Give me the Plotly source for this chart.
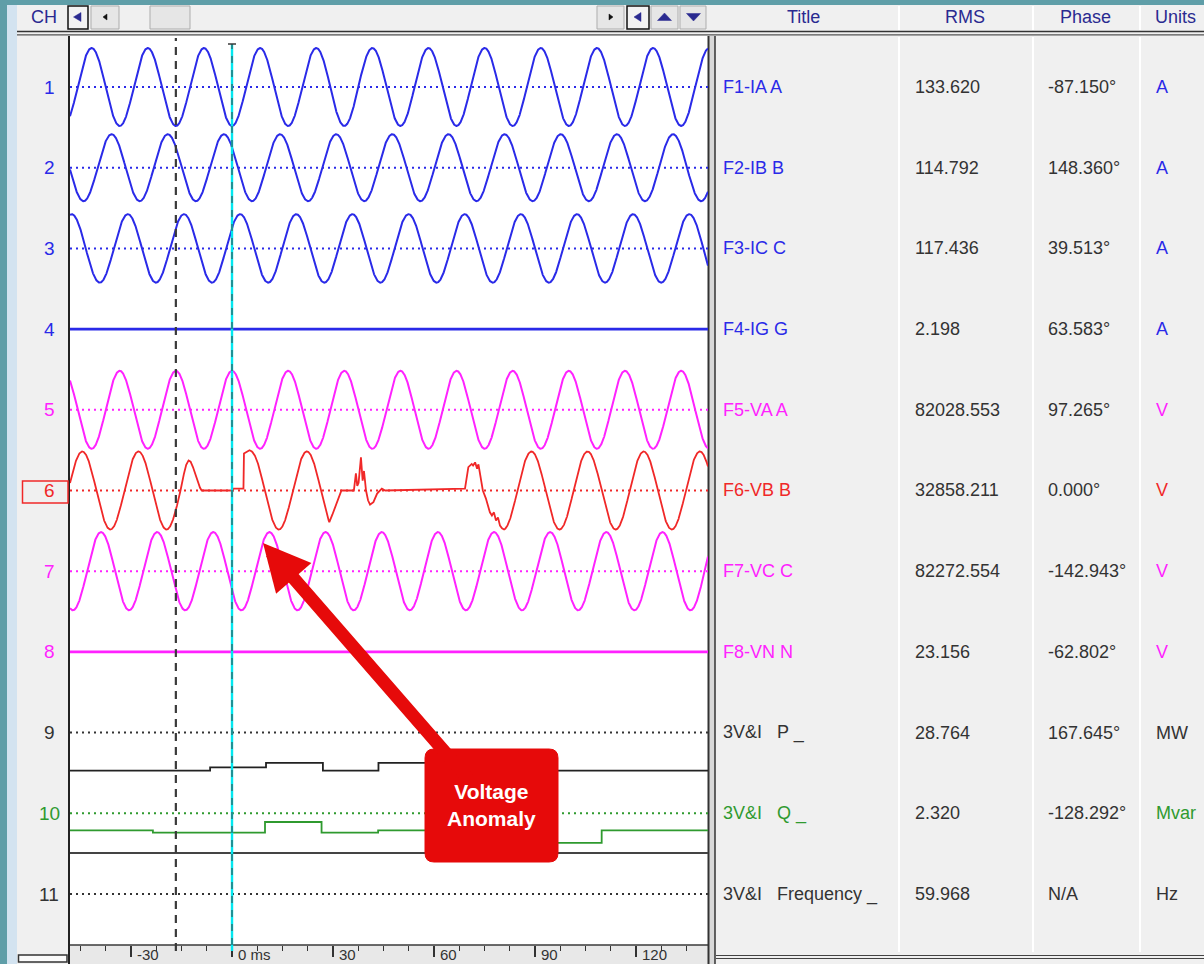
import numpy as np
import plotly.graph_objects as go

W, H = 1204, 964

# ---------------- recorded channel data ----------------
channel_numbers = [str(i) for i in range(1, 12)]
titles = ["F1-IA A", "F2-IB B", "F3-IC C", "F4-IG G", "F5-VA A", "F6-VB B",
          "F7-VC C", "F8-VN N", "3V&I\u00a0\u00a0\u00a0P _", "3V&I\u00a0\u00a0\u00a0Q _",
          "3V&I\u00a0\u00a0\u00a0Frequency _"]
rms_text = ["133.620", "114.792", "117.436", "2.198", "82028.553", "32858.211",
            "82272.554", "23.156", "28.764", "2.320", "59.968"]
phase_text = ["-87.150°", "148.360°", "39.513°", "63.583°", "97.265°", "0.000°",
              "-142.943°", "-62.802°", "167.645°", "-128.292°", "N/A"]
units = ["A", "A", "A", "A", "V", "V", "V", "V", "MW", "Mvar", "Hz"]

freq_hz = 59.968
# analog channels: rms and phase at the 0 ms cursor (deg)
ia_rms, ib_rms, ic_rms = 133.620, 114.792, 117.436
va_rms, vc_rms = 82028.553, 82272.554
vb_prefault_rms = 82150.0
ia_phase, ib_phase, ic_phase = 180.0, 52.0, -52.0
va_phase, vb_phase, vc_phase = 0.0, -120.0, 120.0
ig_level = 0.0
vn_level = 0.0

# VB disturbance samples (ms, per-unit of prefault peak)
vb_event1_t = [-15.3, -14.3, -13.6, -12.9, -12.3, -11.6, -10.9, -10.2, -9.5, -9.0,
               0.3, 0.4, 3.4, 3.55, 4.3, 5.2, 5.9]
vb_event1_pu = [0.0, 0.42, 0.66, 0.77, 0.74, 0.6, 0.42, 0.22, 0.07, 0.0,
                0.0, 0.05, 0.05, 0.95, 0.99, 1.03, 1.0]
vb_event2_t = [28.9, 29.8, 30.8, 31.8, 32.5, 36.2, 36.8, 37.2, 37.6, 38.3, 38.8, 39.2,
               39.8, 40.4, 41.0, 42.0, 43.1, 44.5, 45.5, 69.2, 70.2, 71.2, 71.6, 72.2,
               72.8, 73.2, 73.7, 74.5, 75.4, 76.6, 77.2, 77.8, 78.4, 79.0, 79.6, 80.2, 80.8]
vb_event2_pu = [-0.81, -0.62, -0.38, -0.15, 0.0, 0.0, 0.44, 0.12, 0.2, 0.85, 0.25, 0.5,
                0.0, -0.25, -0.36, -0.3, -0.08, 0.05, 0.0, 0.05, 0.6, 0.68, 0.64, 0.72,
                0.56, 0.67, 0.38, 0.0, -0.2, -0.56, -0.64, -0.56, -0.77, -0.69, -0.9, -0.97, -1.0]

# derived power quantities (ms, value) as step records
p_times = [-48.12, -6.5, 10.1, 27.0, 43.5, 76.8, 141.4]
p_values = [-28.76, -26.3, -22.9, -28.76, -22.9, -28.76, -28.76]
q_times = [-48.12, -23.5, 9.8, 26.6, 43.4, 93.5, 109.8, 141.4]
q_values = [-2.32, -2.63, -1.19, -2.63, -2.32, -4.05, -2.32, -2.32]
f_times = [-48.12, 141.4]
f_values = [59.968, 59.968]

# cursors (ms)
cursor_ref = -16.676
cursor_main = 0.0

tick_vals = [-30, 0, 30, 60, 90, 120]
tick_text = ["-30", "0 ms", "30", "60", "90", "120"]

# ---------------- display settings ----------------
T_MIN, T_MAX = -48.12, 141.38
ROW_TOP, ROW_BOT = 0.368, 11.632
ROW_AMP = 0.483  # rows spanned by a full-scale peak
cur_gain = ROW_AMP / (ia_rms * np.sqrt(2))
volt_gain = ROW_AMP / (va_rms * np.sqrt(2))
p_gain = 0.01637
q_gain = 0.0908
f_gain = 0.5080 / 59.968

BLUE = "#2a2ae8"
MAG = "#ff22ff"
RED = "#f02828"
GREEN = "#2f9a2f"
DARK = "#333333"
NAVY = "#2a2a90"
row_colors = [BLUE, BLUE, BLUE, BLUE, MAG, RED, MAG, MAG, DARK, GREEN, DARK]

t = np.linspace(T_MIN, T_MAX, 4000)


def wave(rms, phase):
    return np.sqrt(2) * rms * np.cos(2 * np.pi * freq_hz * t / 1000 + np.radians(phase))


def vb_wave():
    peak = np.sqrt(2) * vb_prefault_rms
    base = wave(vb_prefault_rms, vb_phase)
    keep = np.ones_like(t, dtype=bool)
    xs, ys = [], []
    for et, ev in ((vb_event1_t, vb_event1_pu), (vb_event2_t, vb_event2_pu)):
        keep &= ~((t >= et[0]) & (t <= et[-1]))
        xs += et
        ys += [v * peak for v in ev]
    tt = np.concatenate([t[keep], xs])
    vv = np.concatenate([base[keep], ys])
    order = np.argsort(tt)
    return tt[order], vv[order]


fig = go.Figure()

analog = [
    (1, t, wave(ia_rms, ia_phase) * cur_gain, BLUE, 2),
    (2, t, wave(ib_rms, ib_phase) * cur_gain, BLUE, 2),
    (3, t, wave(ic_rms, ic_phase) * cur_gain, BLUE, 2),
    (4, t, np.full_like(t, ig_level) * cur_gain, BLUE, 2.6),
    (5, t, wave(va_rms, va_phase) * volt_gain, MAG, 2),
]
vbt, vbv = vb_wave()
analog.append((6, vbt, vbv * volt_gain, RED, 1.8))
analog.append((7, t, wave(vc_rms, vc_phase) * volt_gain, MAG, 2))
analog.append((8, t, np.full_like(t, vn_level) * volt_gain, MAG, 2.6))

for row, xx, yy, col, lw in analog:
    fig.add_trace(go.Scatter(x=xx, y=row - yy, mode="lines",
                             line=dict(color=col, width=lw), hoverinfo="skip"))

fig.add_trace(go.Scatter(x=p_times, y=[9 - v * p_gain for v in p_values], mode="lines",
                         line=dict(color="#222222", width=1.8, shape="hv"), hoverinfo="skip"))
fig.add_trace(go.Scatter(x=q_times, y=[10 - v * q_gain for v in q_values], mode="lines",
                         line=dict(color=GREEN, width=1.8, shape="hv"), hoverinfo="skip"))
fig.add_trace(go.Scatter(x=f_times, y=[11 - v * f_gain for v in f_values], mode="lines",
                         line=dict(color="#444444", width=2), hoverinfo="skip"))

# ---------------- frame / panels ----------------
shapes = []


def px(x):
    return x / W


def py(y):
    return 1 - y / H


def rect(x0, y0, x1, y1, fill, line=None, lw=0):
    shapes.append(dict(type="rect", xref="paper", yref="paper", layer="below",
                       x0=px(x0), x1=px(x1), y0=py(y1), y1=py(y0), fillcolor=fill,
                       line=dict(color=line or fill, width=lw)))


def hline(x0, x1, y, color, lw, layer="below"):
    shapes.append(dict(type="line", xref="paper", yref="paper", layer=layer,
                       x0=px(x0), x1=px(x1), y0=py(y), y1=py(y), line=dict(color=color, width=lw)))


def vline(x, y0, y1, color, lw, layer="below"):
    shapes.append(dict(type="line", xref="paper", yref="paper", layer=layer,
                       x0=px(x), x1=px(x), y0=py(y0), y1=py(y1), line=dict(color=color, width=lw)))


def tri(points, color):
    d = "M " + " L ".join(f"{px(a):.5f},{py(b):.5f}" for a, b in points) + " Z"
    shapes.append(dict(type="path", xref="paper", yref="paper", layer="below", path=d,
                       fillcolor=color, line=dict(color=color, width=0.5)))


rect(7, 5, 17, 964, "#d3e3f0")
rect(17, 5, 1204, 964, "#f0f0f0")
# plot area and time strip
rect(70, 36, 708, 945, "#ffffff")
rect(70, 945, 708, 964, "#e8e8e8")
hline(70, 708, 945, "#3a3a3a", 1.5)
vline(69, 36, 964, "#222222", 2)
# splitter between traces and table
rect(709, 36, 715, 964, "#d8d8d8")
vline(708.5, 36, 964, "#333333", 2)
vline(715, 36, 964, "#333333", 1.5)
# header separator
hline(17, 1204, 31.5, "#333333", 1.6)
hline(17, 1204, 34.8, "#555555", 1.2)
# table column separators
for cx in (899, 1033, 1140):
    vline(cx, 6, 30, "#ffffff", 2)
    vline(cx, 37, 952, "#ffffff", 2)
hline(716, 1204, 955.5, "#444444", 1.2)
hline(716, 1204, 958.5, "#444444", 1.2)
# bottom-left scroll box
rect(18.5, 955, 67, 962, "#fbfbfb", "#333333", 1.5)

# header buttons
rect(68, 6, 88, 29, "#f2f2f2", "#111111", 1.5)
tri([(73.5, 17), (81, 12.5), (81, 21.5)], NAVY)
rect(91, 6, 119, 29, "#e6e6e6", "#adadad", 1)
tri([(103, 17), (107, 14), (107, 20)], "#111111")
rect(150, 6, 190, 29, "#e6e6e6", "#adadad", 1)
rect(597, 6, 624, 29, "#e6e6e6", "#adadad", 1)
tri([(613, 17), (609, 14), (609, 20)], "#111111")
rect(627, 6, 649, 29, "#f2f2f2", "#111111", 1.5)
tri([(634, 17), (641, 12.5), (641, 21.5)], NAVY)
rect(651, 6, 678, 29, "#e6e6e6", "#adadad", 1)
tri([(664.5, 13), (657.5, 20.5), (671.5, 20.5)], NAVY)
rect(680, 6, 706, 29, "#e6e6e6", "#adadad", 1)
tri([(686.5, 13.5), (700.5, 13.5), (693.5, 21)], NAVY)

# channel 6 selection box
rect(22.5, 481, 68, 503, "rgba(0,0,0,0)", RED, 1.5)

# dotted channel baselines
for i, col in enumerate(row_colors):
    shapes.append(dict(type="line", xref="paper", yref="y", layer="below",
                       x0=px(70), x1=px(708), y0=i + 1, y1=i + 1,
                       line=dict(color=col, width=2, dash="2px,4px")))

# cursors
shapes.append(dict(type="line", xref="x", yref="paper", layer="above",
                   x0=cursor_ref, x1=cursor_ref, y0=py(951), y1=py(38),
                   line=dict(color="#3a3a3a", width=2.2, dash="8px,6px")))
shapes.append(dict(type="line", xref="x", yref="paper", layer="above",
                   x0=cursor_main, x1=cursor_main, y0=py(951), y1=py(44),
                   line=dict(color="#00e8f0", width=2.4)))
shapes.append(dict(type="line", xref="x", yref="paper", layer="above",
                   x0=cursor_main, x1=cursor_main, y0=py(945), y1=py(44),
                   line=dict(color="#3a3a3a", width=1.0, dash="7px,7px")))
shapes.append(dict(type="line", xref="paper", yref="paper", layer="above",
                   x0=px(228), x1=px(236), y0=py(44), y1=py(44),
                   line=dict(color="#3a3a3a", width=1.5)))

# callout box
bx0, by0, bx1, by1, r = 425, 749, 558, 862, 9
box_path = (f"M {px(bx0 + r)},{py(by0)} L {px(bx1 - r)},{py(by0)} "
            f"Q {px(bx1)},{py(by0)} {px(bx1)},{py(by0 + r)} L {px(bx1)},{py(by1 - r)} "
            f"Q {px(bx1)},{py(by1)} {px(bx1 - r)},{py(by1)} L {px(bx0 + r)},{py(by1)} "
            f"Q {px(bx0)},{py(by1)} {px(bx0)},{py(by1 - r)} L {px(bx0)},{py(by0 + r)} "
            f"Q {px(bx0)},{py(by0)} {px(bx0 + r)},{py(by0)} Z")
shapes.append(dict(type="path", xref="paper", yref="paper", layer="above", path=box_path,
                   fillcolor="#e60a0a", line=dict(color="#e60a0a", width=1)))

# ---------------- text ----------------
ann = []
FONT = "Liberation Sans, Arial, sans-serif"


def label(x, y, text, color, size=19, anchor="left", bold=False):
    ann.append(dict(xref="paper", yref="paper", x=px(x), y=py(y), text=f"<b>{text}</b>" if bold else text,
                    showarrow=False, xanchor=anchor, yanchor="middle",
                    font=dict(family=FONT, size=size, color=color)))


label(44, 17, "CH", NAVY, 18, "center")
label(803, 17, "Title", NAVY, 18, "center")
label(965, 17, "RMS", NAVY, 18, "center")
label(1085, 17, "Phase", NAVY, 18, "center")
label(1175, 17, "Units", NAVY, 18, "center")

row_y = [87 + i * 80.7 for i in range(11)]
title_colors = row_colors
for i in range(11):
    y = row_y[i]
    label(49, y, channel_numbers[i], row_colors[i], 19, "center")
    label(721, y, titles[i], title_colors[i], 18)
    label(913, y, rms_text[i], DARK, 18)
    label(1046, y, phase_text[i], DARK, 18)
    label(1154, y, units[i], title_colors[i], 18)

for v, s in zip(tick_vals, tick_text):
    ann.append(dict(xref="x", yref="paper", x=v, y=py(954.5), text=s, showarrow=False,
                    xanchor="left", yanchor="middle", xshift=4,
                    font=dict(family=FONT, size=15, color="#333333")))

# callout label with arrow to the disturbed VB cycle
ann.append(dict(xref="paper", yref="paper", x=px(263), y=py(543),
                ax=491 - 263, ay=805 - 543, text="<b>Voltage<br>Anomaly</b>",
                showarrow=True, arrowhead=2, arrowsize=0.72, arrowwidth=13,
                arrowcolor="#e60a0a", standoff=0,
                font=dict(family=FONT, size=21, color="#ffffff")))

fig.update_layout(
    width=W, height=H, margin=dict(l=0, r=0, t=0, b=0),
    paper_bgcolor="#5f9ea8", plot_bgcolor="rgba(0,0,0,0)",
    showlegend=False, shapes=shapes, annotations=ann,
    xaxis=dict(domain=[px(70), px(708)], range=[T_MIN, T_MAX], showgrid=False, zeroline=False,
               showticklabels=False, ticks="outside", ticklen=11, tickwidth=1.5,
               tickcolor="#333333", tick0=0, dtick=30,
               minor=dict(ticks="outside", ticklen=5, tickwidth=1.3, tickcolor="#333333", dtick=7.5, showgrid=False),
               fixedrange=True),
    yaxis=dict(domain=[py(945), py(36)], range=[ROW_BOT, ROW_TOP], showgrid=False, zeroline=False,
               showticklabels=False, fixedrange=True),
)

fig.write_html("out.html")
